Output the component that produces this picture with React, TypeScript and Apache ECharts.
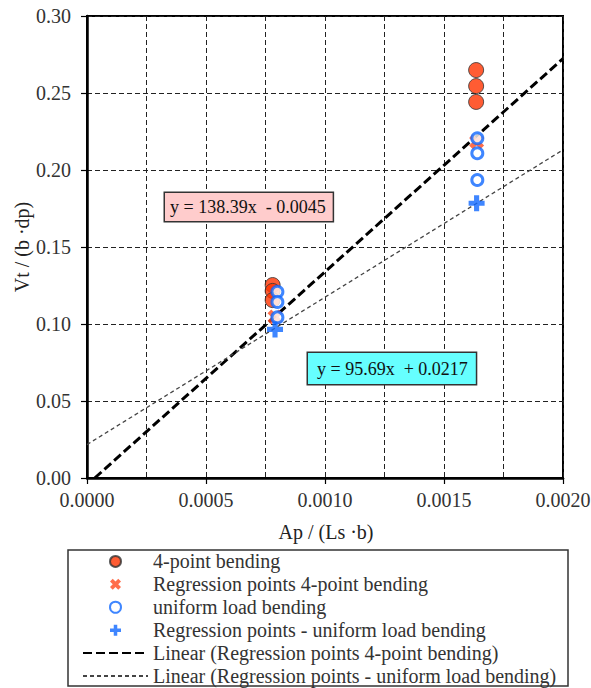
import React, { useEffect, useRef } from "react";
import * as echarts from "echarts";

// ---- data ----
const fourPointBending: [number, number][] = [
  [0.00078, 0.1253],
  [0.00078, 0.1215],
  [0.00078, 0.1155],
  [0.001635, 0.2649],
  [0.001635, 0.2545],
  [0.001635, 0.2442],
];
const regressionFourPoint: [number, number][] = [
  [0.00079, 0.1045],
  [0.001637, 0.2184],
];
const uniformLoadBending: [number, number][] = [
  [0.0008, 0.1209],
  [0.0008, 0.1143],
  [0.0008, 0.1043],
  [0.00164, 0.2206],
  [0.00164, 0.2109],
  [0.00164, 0.1935],
];
const regressionUniform: [number, number][] = [
  [0.00079, 0.0965],
  [0.001637, 0.1784],
];
const linearFourPoint: [number, number][] = [
  [0.0000325, 0],
  [0.002, 0.2723],
];
const linearUniform: [number, number][] = [
  [0, 0.0217],
  [0.002, 0.2131],
];
const eqFourPoint = "y = 138.39x  - 0.0045";
const eqUniform = "y = 95.69x  + 0.0217";
const xTitle = "Ap / (Ls ·b)";
const yTitle = "Vt / (b ·dp)";
const seriesNames = [
  "4-point bending",
  "Regression points 4-point bending",
  "uniform load bending",
  "Regression points - uniform load bending",
  "Linear (Regression points 4-point bending)",
  "Linear (Regression points - uniform load bending)",
];

const FONT = "'Liberation Serif', 'Times New Roman', serif";
const X_PATH =
  "path://M2.5,0 L5,2.5 L7.5,0 L10,2.5 L7.5,5 L10,7.5 L7.5,10 L5,7.5 L2.5,10 L0,7.5 L2.5,5 L0,2.5 Z";
const PLUS_PATH =
  "path://M3.4,0 H6.6 V3.4 H10 V6.6 H6.6 V10 H3.4 V6.6 H0 V3.4 H3.4 Z";
const RED = "#FF3300";
const RED_X = "#FF4A1E";
const BLUE = "#0F68FF";
const CLEAR = "rgba(0,0,0,0)";

export default function App() {
  const ref = useRef<HTMLDivElement>(null);
  useEffect(() => {
    if (!ref.current) return;
    const chart = echarts.init(ref.current, undefined, { renderer: "svg" });
    const option: any = {
      animation: false,
      backgroundColor: "#fff",
      textStyle: { fontFamily: FONT },
      grid: {
        left: 87,
        right: 28,
        top: 16,
        bottom: 210,
        show: true,
        borderColor: "#000",
        borderWidth: 2,
        outerBoundsMode: "none",
      },
      xAxis: {
        type: "value",
        min: 0,
        max: 0.002,
        interval: 0.0005,
        axisLine: { onZero: false, lineStyle: { color: "#000", width: 2.5 } },
        axisTick: { show: true, length: 6, lineStyle: { color: "#000", width: 1.2 } },
        axisLabel: {
          formatter: (v: number) => v.toFixed(4),
          fontFamily: FONT,
          fontSize: 20,
          color: "#333",
          margin: 12,
        },
        splitLine: { show: true, lineStyle: { color: "#222", type: [5, 3], width: 1 } },
        minorTick: { show: false, splitNumber: 2 },
        minorSplitLine: { show: true, lineStyle: { color: "#222", type: [5, 3], width: 1 } },
      },
      yAxis: {
        type: "value",
        min: 0,
        max: 0.3,
        interval: 0.05,
        axisLine: { onZero: false, lineStyle: { color: "#000", width: 2.5 } },
        axisTick: { show: true, length: 6, lineStyle: { color: "#000", width: 1.2 } },
        axisLabel: {
          formatter: (v: number) => v.toFixed(2),
          fontFamily: FONT,
          fontSize: 20,
          color: "#333",
          margin: 16,
        },
        splitLine: { show: true, lineStyle: { color: "#222", type: [5, 3], width: 1 } },
      },
      legend: {
        orient: "vertical",
        left: 82,
        top: 550,
        itemWidth: 65,
        itemHeight: 11,
        itemGap: 0,
        padding: 0,
        textStyle: { fontFamily: FONT, fontSize: 20, color: "#333", lineHeight: 22.9 },
        data: [
          seriesNames[0],
          seriesNames[1],
          seriesNames[2],
          seriesNames[3],
          { name: seriesNames[4], itemStyle: { opacity: 0 } },
          { name: seriesNames[5], itemStyle: { opacity: 0 } },
        ],
      },
      series: [
        {
          name: seriesNames[4],
          type: "line",
          data: linearFourPoint,
          symbol: "none",
          z: 2,
          itemStyle: { color: CLEAR, borderColor: CLEAR, borderWidth: 0 },
          lineStyle: { color: "#000", width: 3, type: [9, 4] },
        },
        {
          name: seriesNames[5],
          type: "line",
          data: linearUniform,
          symbol: "none",
          z: 2,
          itemStyle: { color: CLEAR, borderColor: CLEAR, borderWidth: 0 },
          lineStyle: { color: "#444", width: 1.3, type: [4, 3] },
        },
        {
          name: seriesNames[0],
          type: "scatter",
          data: fourPointBending,
          symbol: "circle",
          symbolSize: 15,
          z: 3,
          itemStyle: { color: RED, borderColor: "#333", borderWidth: 1 },
        },
        {
          name: seriesNames[1],
          type: "scatter",
          data: regressionFourPoint,
          symbol: X_PATH,
          symbolSize: 15,
          z: 4,
          itemStyle: { color: RED_X },
        },
        {
          name: seriesNames[2],
          type: "scatter",
          data: uniformLoadBending,
          symbol: "circle",
          symbolSize: 11,
          z: 5,
          itemStyle: { color: "#fff", borderColor: BLUE, borderWidth: 3 },
        },
        {
          name: seriesNames[3],
          type: "scatter",
          data: regressionUniform,
          symbol: PLUS_PATH,
          symbolSize: 16,
          z: 6,
          itemStyle: { color: BLUE },
        },
      ],
      graphic: [
        {
          type: "text",
          x: 165,
          y: 193,
          z: 100,
          style: {
            text: eqFourPoint,
            font: `18px ${FONT}`,
            fill: "#111",
            backgroundColor: "#FFCCCC",
            borderColor: "#333",
            borderWidth: 1.5,
            padding: [5, 7, 5, 5],
          },
        },
        {
          type: "text",
          x: 308,
          y: 353,
          z: 100,
          style: {
            text: eqUniform,
            font: `18px ${FONT}`,
            fill: "#111",
            backgroundColor: "#66FFFF",
            borderColor: "#333",
            borderWidth: 1.5,
            padding: [7, 8, 6, 9],
          },
        },
        {
          type: "text",
          x: 326,
          y: 532,
          style: {
            text: xTitle,
            font: `20px ${FONT}`,
            fill: "#222",
            align: "center",
            verticalAlign: "middle",
          },
        },
        {
          type: "text",
          x: 22,
          y: 247,
          rotation: Math.PI / 2,
          style: {
            text: yTitle,
            font: `20px ${FONT}`,
            fill: "#222",
            align: "center",
            verticalAlign: "middle",
          },
        },
        {
          type: "rect",
          shape: { x: 68, y: 550, width: 500, height: 136 },
          style: { fill: "none", stroke: "#333", lineWidth: 1.5 },
          z: 50,
        },
      ],
    };
    chart.setOption(option);
    return () => chart.dispose();
  }, []);
  return (
    <div
      ref={ref}
      style={{ position: "absolute", left: 0, top: 0, width: 591, height: 688 }}
    />
  );
}
